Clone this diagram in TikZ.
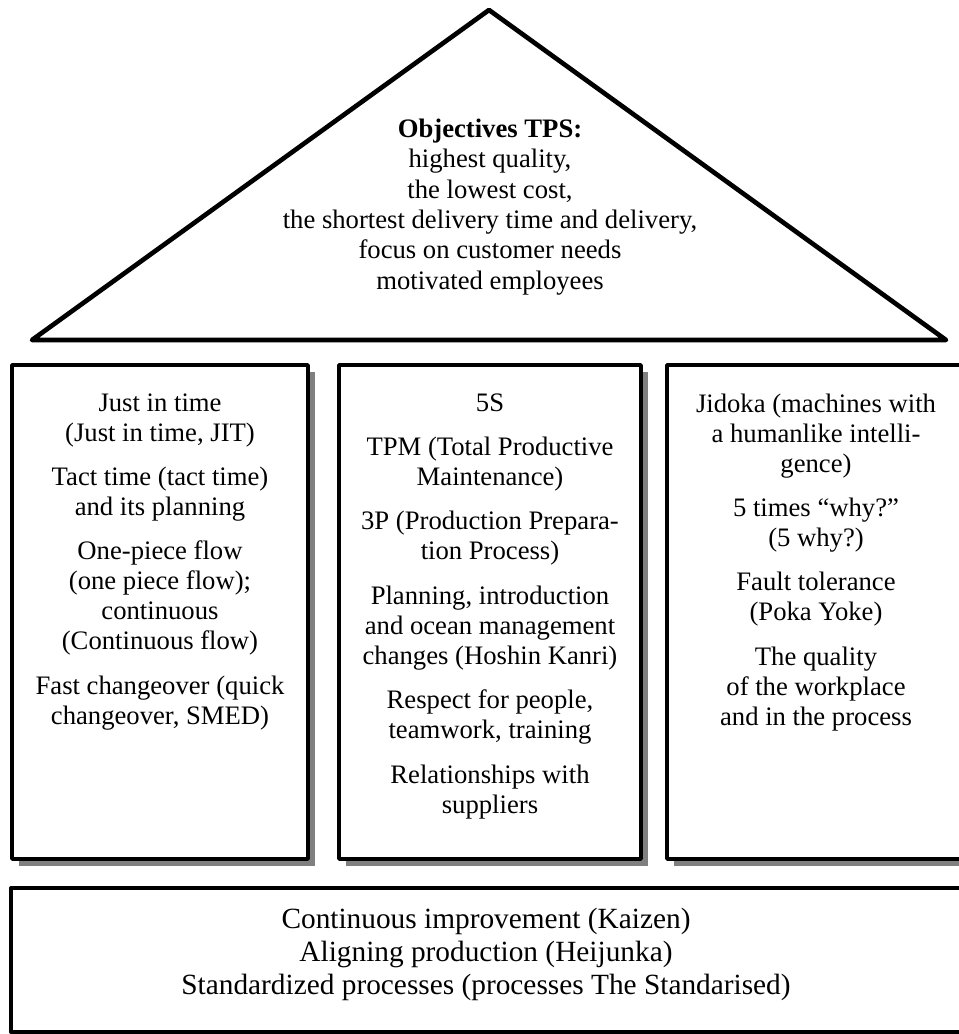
\documentclass[tikz,border=0pt]{standalone}
\usepackage{fontspec}
\setmainfont{Liberation Serif}
\usetikzlibrary{shapes,shapes.geometric,shadows,positioning,calc}

\begin{document}
\begin{tikzpicture}[x=0.75pt, y=-0.75pt, line join=round]
		\tikzset{pillar/.style={draw=black,line width=2.6pt,rectangle,fill=white,inner sep=0pt,minimum height=370.5pt,drop shadow={shadow xshift=5pt,shadow yshift=-5pt,fill=black!50,opacity=1}}}
		\tikzset{pillartext/.style={align=center,inner sep=0pt,font=\fontsize{20}{22.5}\selectfont}}

		\useasboundingbox (0,0) rectangle (959,1034);
		\clip (0,0) rectangle (959,1034);

		% Roof
		\coordinate (roofleft) at (32,340);
		\coordinate (rooftop) at (489,10);
		\coordinate (roofright) at (946,340);
		\draw[line width=3.5pt] (roofleft) -- (rooftop) -- (roofright) -- cycle;

		\node[align=center, inner sep=0pt, font=\fontsize{20}{22.8}\selectfont] (objectives) at (490,207) {\textbf{Objectives TPS:}\\ highest quality,\\ the lowest cost,\\ the shortest delivery time and delivery,\\ focus on customer needs\\ motivated employees};

		% Pillars
		\node[pillar, minimum width=222pt] (jitpillar) at (160,612) {};
		\node[pillar, minimum width=226.5pt] (tpmpillar) at (490,612) {};
		\node[pillar, minimum width=223.5pt] (jidokapillar) at (816,612) {};

		% Pillar texts
		\node[pillartext, below=22.5pt of jitpillar.north] (jittext) {Just in time\\ (Just in time, JIT)\\[10.8pt] Tact time (tact time)\\ and its planning\\[10.8pt] One-piece flow\\ (one piece flow);\\ continuous\\ (Continuous flow)\\[10.8pt] Fast changeover (quick\\ changeover, SMED)};

		\node[pillartext, below=22.5pt of tpmpillar.north] (tpmtext) {5S\\[10.8pt] TPM (Total Productive\\ Maintenance)\\[10.8pt] 3P (Production Prepara-\\ tion Process)\\[10.8pt] Planning, introduction\\ and ocean management\\ changes (Hoshin Kanri)\\[10.8pt] Respect for people,\\ teamwork, training\\[10.8pt] Relationships with\\ suppliers};

		\node[pillartext, below=22.5pt of jidokapillar.north] (jidokatext) {Jidoka (machines with\\ a humanlike intelli-\\ gence)\\[10.8pt] 5 times “why?”\\ (5 why?)\\[10.8pt] Fault tolerance\\ (Poka Yoke)\\[10.8pt] The quality\\ of the workplace\\ and in the process};

		% Foundation
		\node[draw=black, line width=2.8pt, rectangle, inner sep=0pt, minimum width=714pt, minimum height=108.4pt] (foundation) at (487,960) {};
		\node[align=center, inner sep=0pt, font=\fontsize{22}{24.75}\selectfont] (foundationtext) at (486,954) {Continuous improvement (Kaizen)\\ Aligning production (Heijunka)\\ Standardized processes (processes The Standarised)};

	\end{tikzpicture}
\end{document}
